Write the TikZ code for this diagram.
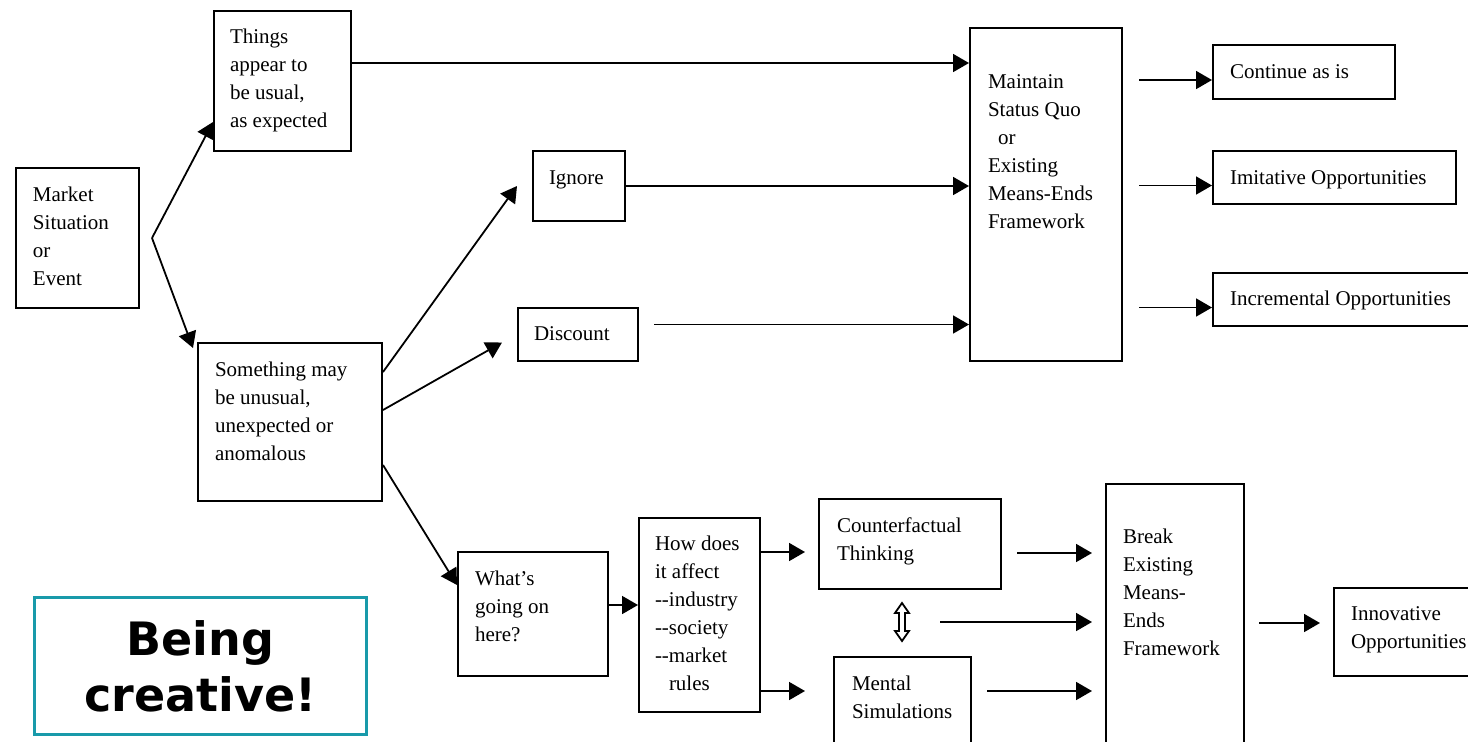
\documentclass[tikz,border=0pt]{standalone}
\usepackage{fontspec}
\setmainfont{Liberation Serif}
\newfontfamily\creafont{DejaVu Sans Bold}
\usetikzlibrary{arrows.meta,calc}
\newdimen\pxu \pxu=0.5pt
\newcommand\bt[5]{\begin{minipage}[t][#2\pxu][t]{#1\pxu}\raggedright\leftskip=#3\pxu\relax\rule{0pt}{#4\pxu}#5\end{minipage}}
\definecolor{tealc}{RGB}{24,154,170}
\tikzset{
  box/.style={draw, line width=1pt, inner sep=0pt, anchor=north west, font=\fontsize{10.5}{14}\selectfont},
  arr/.style={line width=0.9pt, -{Triangle[length=8pt,width=9pt]}},
  crea/.style={draw=tealc, line width=1.6pt, inner sep=0pt, anchor=north west, align=center,
    minimum width=166pt, minimum height=68.5pt, font=\creafont\fontsize{23}{28}\selectfont}
}
\begin{document}
\begin{tikzpicture}[x=0.5pt,y=-0.5pt]
\useasboundingbox (0,0) rectangle (1468,741);
\clip (0,0) rectangle (1468,741);
% boxes
\node[box] (market) at (15,167) {\bt{123}{140}{17}{33}{Market\\Situation\\or\\Event}};
\node[box] (things) at (213,10) {\bt{137}{140}{16}{32}{Things\\appear to\\be usual,\\as expected}};
\node[box] (something) at (197,342) {\bt{184}{158}{17}{33}{Something may\\be unusual,\\unexpected or\\anomalous}};
\node[box] (ignore) at (532,150) {\bt{92}{70}{16}{33}{Ignore}};
\node[box] (discount) at (517,307) {\bt{120}{53}{16}{32}{Discount}};
\node[box] (maint) at (969,27) {\bt{152}{333}{18}{60}{Maintain\\Status Quo\\\hspace*{5pt}or\\Existing\\Means-Ends\\Framework}};
\node[box] (cont) at (1212,44) {\bt{182}{54}{17}{33}{Continue as is}};
\node[box] (imit) at (1212,150) {\bt{243}{53}{17}{33}{Imitative Opportunities}};
\node[box] (incr) at (1212,272) {\bt{262}{53}{17}{32}{Incremental Opportunities}};
\node[box] (whats) at (457,551) {\bt{150}{124}{17}{33}{What’s\\going on\\here?}};
\node[box] (how) at (638,517) {\bt{121}{194}{16}{32}{How does\\it affect\\-\kern0pt-industry\\-\kern0pt-society\\-\kern0pt-market\\\hspace*{7pt}rules}};
\node[box] (counter) at (818,498) {\bt{182}{90}{18}{33}{Counterfactual\\Thinking}};
\node[box] (mental) at (833,656) {\bt{137}{100}{18}{33}{Mental\\Simulations}};
\node[box] (break) at (1105,483) {\bt{138}{280}{17}{59}{Break\\Existing\\Means-\\Ends\\Framework}};
\node[box] (innov) at (1333,587) {\bt{140}{88}{17}{32}{Innovative\\Opportunities}};
\node[crea] (creative) at (33,596) {Being\\creative!};
% fork from market situation
\coordinate (fork) at (152,238);
\draw[arr] (fork) -- ([yshift=15pt]things.south west);
\draw[arr] (fork) -- ([xshift=-2pt,yshift=-3pt]something.north west);
% from something
\draw[arr] ([yshift=-15pt]something.north east) -- ([xshift=-7.5pt]ignore.west);
\draw[arr] ([yshift=-34pt]something.north east) -- ([xshift=-7.5pt,yshift=-4pt]discount.west);
\draw[arr] ([yshift=18.5pt]something.south east) -- ([yshift=-17pt]whats.north west);
% into maintain
\draw[arr] ([yshift=9pt]things.east) -- ([yshift=9pt]things.east -| maint.west);
\draw[arr] (ignore.east) -- (ignore.east -| maint.west);
\draw[arr] ([xshift=7.5pt,yshift=5pt]discount.east) -- ([yshift=5pt]discount.east -| maint.west);
% out of maintain
\coordinate (c1) at ([yshift=-4pt]cont.west);
\coordinate (c2) at ([yshift=-4pt]imit.west);
\coordinate (c3) at ([yshift=-4pt]incr.west);
\draw[arr] ($(c1 -| maint.east)+(16,0)$) -- (c1);
\draw[arr] ($(c2 -| maint.east)+(16,0)$) -- (c2);
\draw[arr] ($(c3 -| maint.east)+(16,0)$) -- (c3);
% lower chain
\draw[arr] ([yshift=4.5pt]whats.east) -- ([yshift=4.5pt]whats.east -| how.west);
\coordinate (k1) at ([yshift=-4pt]counter.west);
\coordinate (k2) at ([yshift=8pt]mental.west);
\draw[arr] (k1 -| how.east) -- ($(k1)+(-13,0)$);
\draw[arr] (k2 -| how.east) -- ($(k2)+(-28,0)$);
\draw[arr] ($(counter.east)+(15,9)$) -- ($(counter.east -| break.west)+(-13,9)$);
\coordinate (dm) at (940,622);
\draw[arr] (dm) -- ($(dm -| break.west)+(-13,0)$);
\draw[arr] ($(mental.east)+(15,-16)$) -- ($(mental.east -| break.west)+(-13,-16)$);
\draw[arr] ($(break.east)+(14,-1)$) -- ($(break.east -| innov.west)+(-13,-1)$);
% hollow double arrow
\draw[line width=0.9pt, line join=miter] (902,603) -- (909,613) -- (905,613) -- (905,631) -- (909,631) -- (902,641) -- (895,631) -- (899,631) -- (899,613) -- (895,613) -- cycle;
\end{tikzpicture}
\end{document}
